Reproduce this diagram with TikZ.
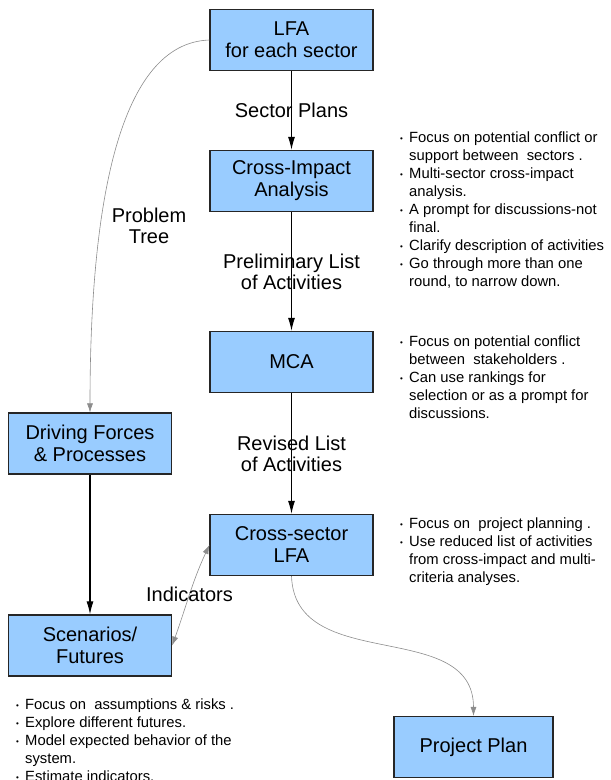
\documentclass[tikz,border=0pt]{standalone}
\usepackage{fontspec}
\setmainfont{Liberation Sans}
\usetikzlibrary{arrows.meta}
\definecolor{boxblue}{HTML}{99CCFF}
\newcommand*{\bul}{\makebox[9pt][l]{\raisebox{1.5pt}{\fontsize{8}{8}\selectfont\textbullet}}}
\newcommand*{\ind}{\hspace*{9pt}}
\tikzset{
  box/.style={draw=black!85, line width=1.2pt, fill=boxblue, minimum width=163pt,
    minimum height=61pt, inner sep=0pt, align=center, font=\fontsize{20}{22}\selectfont},
  note/.style={anchor=north west, inner sep=0pt, align=left, font=\fontsize{14.8}{18}\selectfont},
  flow/.style={-{Latex[length=13pt,width=7pt]}, line width=1.1pt},
  link/.style={-{Latex[length=9pt,width=6pt]}, black!45, line width=0.6pt},
  lbl/.style={font=\fontsize{20}{21}\selectfont, align=center, text=black}
}

\begin{document}
\begin{tikzpicture}[x=1pt, y=1pt]
\useasboundingbox (0,0) rectangle (611,-780);
% main column
\node[box] (lfa) at (291.5,-40) {LFA\\for each sector};
\node[box] (cia) at (291.5,-181) {Cross-Impact\\Analysis};
\node[box] (mca) at (291.5,-362) {MCA};
\node[box] (csl) at (291.5,-545) {Cross-sector\\LFA};
% left column
\node[box] (dfp) at (90,-443.5) {Driving Forces\\\& Processes};
\node[box] (scen) at (90,-645.5) {Scenarios/\\Futures};
\node[box, minimum width=159pt] (pplan) at (473.5,-747) {Project Plan};

\draw[flow] (lfa) -- node[lbl] {Sector Plans} (cia);
\draw[flow] (cia) -- node[lbl] {Preliminary List\\of Activities} (mca);
\draw[flow] (mca) -- node[lbl] {Revised List\\of Activities} (csl);
\draw[flow] (dfp) -- (scen);

\draw[link] (lfa.west) .. controls +(-90,-3) and +(0,210) .. (dfp.north);
\node[lbl] (ptree) at (149,-226) {Problem\\Tree};
\draw[link, {Latex[length=9pt,width=6pt]}-{Latex[length=9pt,width=6pt]}] (csl.west)
  to[out=245, in=70] node[lbl] {Indicators} (scen.east);
\draw[link] (csl.south) to[out=-88, in=90, looseness=1.1] (pplan.north);

% notes
\node[note] (ncia) at (400,-132) {\bul Focus on potential conflict or\\
  \ind support between\ \ sectors\ .\\
  \bul Multi-sector cross-impact\\
  \ind analysis.\\
  \bul A prompt for discussions-not\\
  \ind final.\\
  \bul Clarify description of activities\\
  \bul Go through more than one\\
  \ind round, to narrow down.};
\node[note] (nmca) at (400,-336) {\bul Focus on potential conflict\\
  \ind between\ \ stakeholders\ .\\
  \bul Can use rankings for\\
  \ind selection or as a prompt for\\
  \ind discussions.};
\node[note] (ncsl) at (400,-518) {\bul Focus on\ \ project planning\ .\\
  \bul Use reduced list of activities\\
  \ind from cross-impact and multi-\\
  \ind criteria analyses.};
\node[note] (nscen) at (16,-699) {\bul Focus on\ \ assumptions \& risks\ .\\
  \bul Explore different futures.\\
  \bul Model expected behavior of the\\
  \ind system.\\
  \bul Estimate indicators.};
\end{tikzpicture}
\end{document}
